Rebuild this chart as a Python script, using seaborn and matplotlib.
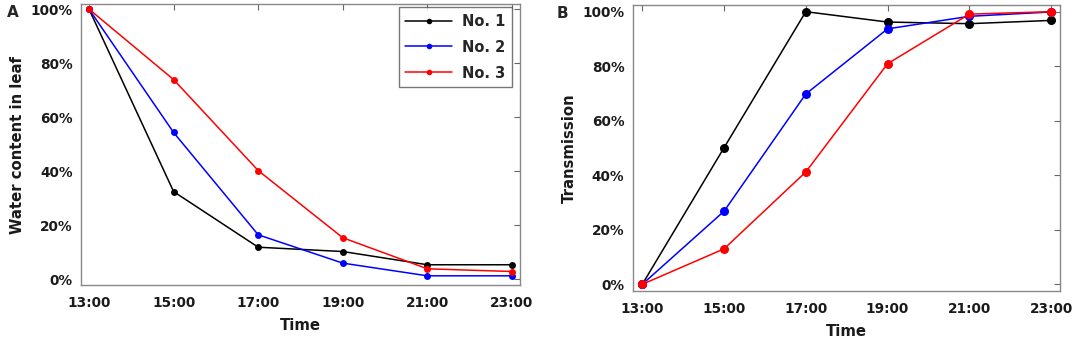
import pandas as pd
import matplotlib
matplotlib.use("Agg")
import matplotlib.pyplot as plt
import matplotlib.ticker as mtick
import seaborn as sns

hours = [13, 15, 17, 19, 21, 23]
tick_labels = ["13:00", "15:00", "17:00", "19:00", "21:00", "23:00"]
samples = ["No. 1", "No. 2", "No. 3"]

# water content in leaf (%)
water_no1 = [100, 32.4, 11.8, 10.2, 5.3, 5.3]
water_no2 = [100, 54.3, 16.4, 5.9, 1.2, 1.2]
water_no3 = [100, 73.9, 40.2, 15.3, 3.8, 2.8]

# transmission (%)
trans_no1 = [0, 50.1, 100, 96.2, 95.6, 96.8]
trans_no2 = [0, 26.8, 69.8, 93.7, 98.3, 99.9]
trans_no3 = [0, 13.0, 41.2, 80.9, 99.1, 100]

colors = {"No. 1": "black", "No. 2": "blue", "No. 3": "red"}


def long_df(series):
    rows = []
    for name, vals in zip(samples, series):
        for h, v in zip(hours, vals):
            rows.append({"hour": h, "value": v, "sample": name})
    return pd.DataFrame(rows)


df_water = long_df([water_no1, water_no2, water_no3])
df_trans = long_df([trans_no1, trans_no2, trans_no3])

sns.set_style("white")
plt.rcParams["font.family"] = ["DejaVu Sans"]
plt.rcParams["font.weight"] = "bold"

fig = plt.figure(figsize=(10.74, 3.43), dpi=100)
axA = fig.add_axes([0.0754, 0.1691, 0.4088, 0.8184])
axB = fig.add_axes([0.5891, 0.1525, 0.3979, 0.8329])


def style_axis(ax, ylabel, xlim, ylim):
    ax.set_xlim(*xlim)
    ax.set_ylim(*ylim)
    ax.set_xticks(hours)
    ax.set_xticklabels(tick_labels)
    ax.set_yticks([0, 20, 40, 60, 80, 100])
    ax.yaxis.set_major_formatter(mtick.FormatStrFormatter("%d%%"))
    ax.tick_params(direction="in", length=4, width=0.8, color="#666666",
                   top=True, right=True, labelsize=9.8)
    ax.tick_params(axis="x", pad=8)
    ax.tick_params(axis="y", pad=6)
    for lab in ax.get_xticklabels() + ax.get_yticklabels():
        lab.set_fontweight("bold")
        lab.set_color("#1a1a1a")
    for sp in ax.spines.values():
        sp.set_color("#888888")
        sp.set_linewidth(1.0)
    ax.set_xlabel("Time", fontsize=10.7, fontweight="bold", color="#1a1a1a", labelpad=6)
    ax.set_ylabel(ylabel, fontsize=10.7, fontweight="bold", color="#1a1a1a", labelpad=4)


sns.lineplot(data=df_water, x="hour", y="value", hue="sample", palette=colors,
             marker="o", markersize=5, markeredgewidth=0, linewidth=1.1, ax=axA)
sns.lineplot(data=df_trans, x="hour", y="value", hue="sample", palette=colors,
             marker="o", markersize=6.5, markeredgewidth=0, linewidth=1.1, ax=axB,
             legend=False)

style_axis(axA, "Water content in leaf", (12.81, 23.19), (-2.2, 101.8))
style_axis(axB, "Transmission", (12.765, 23.22), (-2.35, 102.45))

leg = axA.legend(loc="upper right", bbox_to_anchor=(0.982, 0.99), frameon=True,
                 fancybox=False, prop={"weight": "bold", "size": 10.5},
                 handlelength=3.2, handletextpad=0.7, borderpad=0.45,
                 labelspacing=0.75, borderaxespad=0)
leg.get_frame().set_edgecolor("#555555")
leg.get_frame().set_linewidth(1.0)
for h in leg.legend_handles:
    h.set_markersize(4)

fig.text(0.0065, 0.985, "A", fontsize=11, fontweight="bold", va="top", ha="left")
fig.text(0.518, 0.983, "B", fontsize=11, fontweight="bold", va="top", ha="left")

fig.savefig("out.png", dpi=100)
